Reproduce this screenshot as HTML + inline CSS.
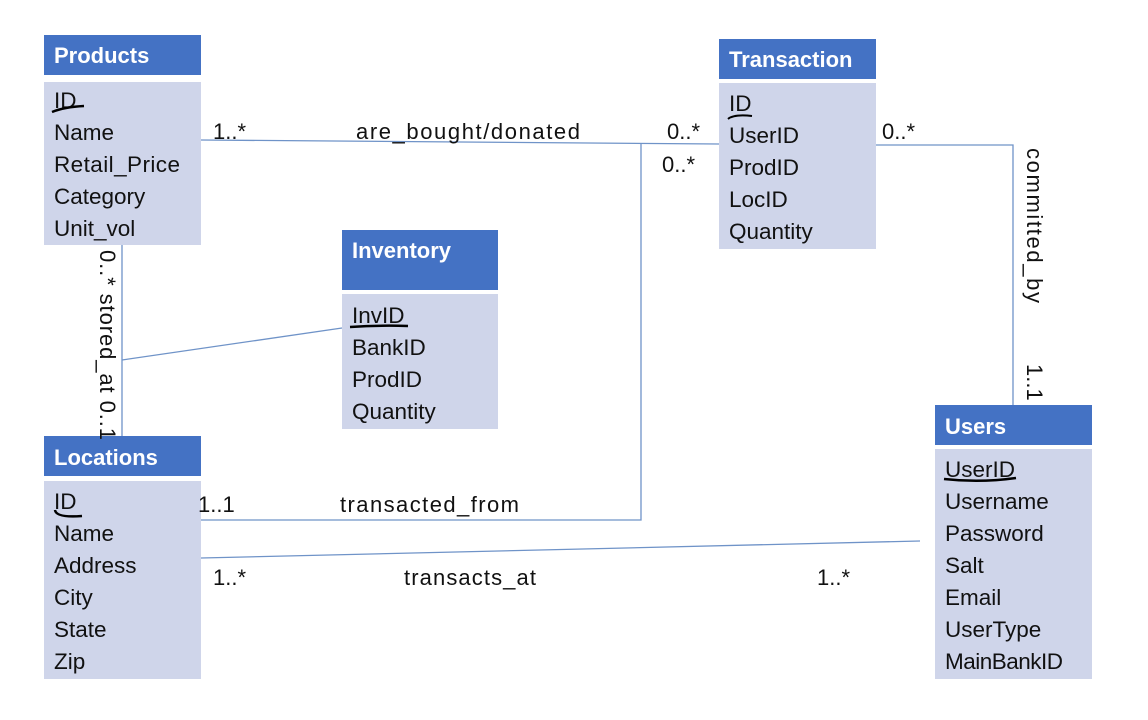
<!DOCTYPE html>
<html><head><meta charset="utf-8"><style>
html,body{margin:0;padding:0;background:#fff;}
svg{display:block;}
text{font-family:"Liberation Sans",sans-serif;}
.h{fill:#fff;font-weight:bold;font-size:22px;}
.t{fill:#111;font-size:22.5px;}
.l{fill:#111;font-size:22px;}
</style></head><body>
<svg width="1148" height="720" viewBox="0 0 1148 720" xmlns="http://www.w3.org/2000/svg">
<rect width="1148" height="720" fill="#fff"/>
<g stroke="#6f93c8" stroke-width="1.3" fill="none">
<polyline points="201,140 719,144"/>
<polyline points="641,144 641,520 201,520"/>
<polyline points="876,145 1013,145 1013,405"/>
<line x1="122" y1="245" x2="122" y2="437"/>
<line x1="122" y1="360" x2="342" y2="328"/>
<line x1="201" y1="558" x2="920" y2="541"/>
</g>
<rect x="44" y="35" width="157" height="40" fill="#4472c4"/>
<rect x="44" y="82" width="157" height="163" fill="#cfd5ea"/>
<text class="h" x="54" y="63">Products</text>
<g class="t"><text x="54" y="108">ID</text><text x="54" y="140">Name</text><text x="54" y="172" textLength="126">Retail_Price</text><text x="54" y="204">Category</text><text x="54" y="236">Unit_vol</text></g>
<path d="M52,112 Q64,107 84,106" stroke="#000" stroke-width="2.5" fill="none"/>
<rect x="719" y="39" width="157" height="40" fill="#4472c4"/>
<rect x="719" y="83" width="157" height="166" fill="#cfd5ea"/>
<text class="h" x="729" y="67">Transaction</text>
<g class="t"><text x="729" y="111">ID</text><text x="729" y="143">UserID</text><text x="729" y="175">ProdID</text><text x="729" y="207">LocID</text><text x="729" y="239">Quantity</text></g>
<path d="M728,119 Q734,114 752,116" stroke="#000" stroke-width="2" fill="none"/>
<rect x="342" y="230" width="156" height="60" fill="#4472c4"/>
<rect x="342" y="294" width="156" height="135" fill="#cfd5ea"/>
<text class="h" x="352" y="258">Inventory</text>
<g class="t"><text x="352" y="323">InvID</text><text x="352" y="355">BankID</text><text x="352" y="387">ProdID</text><text x="352" y="419">Quantity</text></g>
<path d="M350,327 Q380,325 408,326" stroke="#000" stroke-width="2.5" fill="none"/>
<rect x="44" y="436" width="157" height="40" fill="#4472c4"/>
<rect x="44" y="481" width="157" height="198" fill="#cfd5ea"/>
<text class="h" x="54" y="465">Locations</text>
<g class="t"><text x="54" y="509">ID</text><text x="54" y="541">Name</text><text x="54" y="573">Address</text><text x="54" y="605">City</text><text x="54" y="637">State</text><text x="54" y="669">Zip</text></g>
<path d="M55,510 Q56,518 82,516" stroke="#000" stroke-width="2.5" fill="none"/>
<rect x="935" y="405" width="157" height="40" fill="#4472c4"/>
<rect x="935" y="449" width="157" height="230" fill="#cfd5ea"/>
<text class="h" x="945" y="434">Users</text>
<g class="t"><text x="945" y="477">UserID</text><text x="945" y="509">Username</text><text x="945" y="541">Password</text><text x="945" y="573">Salt</text><text x="945" y="605">Email</text><text x="945" y="637">UserType</text><text x="945" y="669" textLength="118">MainBankID</text></g>
<path d="M944,479 Q980,483 1016,478" stroke="#000" stroke-width="2.5" fill="none"/>
<g class="l">
<text x="213" y="139">1..*</text>
<text x="356" y="139" textLength="224">are_bought/donated</text>
<text x="667" y="139">0..*</text>
<text x="662" y="172">0..*</text>
<text x="882" y="139">0..*</text>
<text x="198" y="512">1..1</text>
<text x="340" y="512" textLength="179">transacted_from</text>
<text x="213" y="585">1..*</text>
<text x="404" y="585" textLength="132">transacts_at</text>
<text x="817" y="585">1..*</text>
<text transform="translate(100,250) rotate(90)" textLength="190">0..* stored_at 0..1</text>
<text transform="translate(1027,148) rotate(90)" textLength="155">committed_by</text>
<text transform="translate(1027,364) rotate(90)">1..1</text>
</g>
</svg>
</body></html>
